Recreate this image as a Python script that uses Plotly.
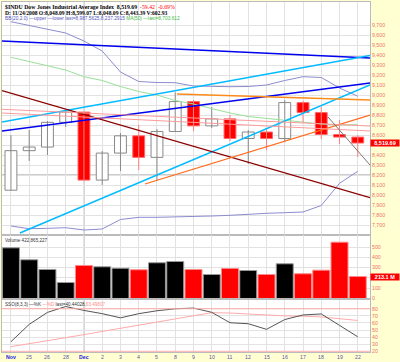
import plotly.graph_objects as go

# ---------------- data ----------------
dates = ["Nov", "25", "26", "28", "Dec", "2", "3", "4", "5", "8", "9", "10",
         "11", "12", "15", "16", "17", "18", "19", "22"]
opens = [8048.09, 8443.39, 8479.47, 8726.61, 8829.04, 8149.09, 8419.09, 8591.69,
         8376.24, 8635.42, 8934.18, 8691.33, 8761.42, 8565.09, 8629.68, 8564.53,
         8924.14, 8824.34, 8604.99, 8579.11]
closes = [8443.39, 8479.47, 8726.61, 8829.04, 8149.09, 8419.09, 8591.69, 8376.24,
          8635.42, 8934.18, 8691.33, 8761.42, 8565.09, 8629.68, 8564.53, 8924.14,
          8824.34, 8604.99, 8579.11, 8519.69]
highs = [8599.07, 8650, 8740, 8850, 8829, 8440, 8620, 8700, 8660, 9026, 8950, 8880,
         8800, 8650, 8670, 8950, 8940, 8880, 8750, 8600]
lows = [8048.09, 8340, 8400, 8680, 8140, 8100, 8240, 8250, 8150, 8636, 8640, 8670,
        8540, 8310, 8450, 8530, 8720, 8560, 8510, 8380]
volume_m = [492, 376, 282, 155, 320, 308, 294, 279, 347, 359, 282, 233, 291, 272,
            233, 337, 240, 275, 547, 213.1]
bb_upper = [9733, 9695, 9660, 9620, 9540, 9440, 9230, 9135, 9125, 9123, 9090, 9083,
            9083, 9085, 9100, 9145, 9183, 9175, 9070, 8987.56]
bb_lower = [7690, 7663, 7667, 7673, 7650, 7660, 7755, 7777, 7777, 7780, 7785, 7790,
            7797, 7810, 7817, 7823, 7830, 7895, 8117, 8237.29]
ma50 = [9377, 9335, 9290, 9250, 9183, 9145, 9085, 9035, 9000, 8945, 8910, 8865,
        8820, 8785, 8765, 8750, 8725, 8710, 8700, 8703.61]
sso_k = [33.5, 58, 74.9, 83.2, 77.7, 73.1, 67.2, 73.1, 77.2, 80, 81, 75, 60.3, 58.9,
         51, 64.8, 71.3, 72.7, 56.6, 40.44]
sso_d = [26.5, 30.5, 35, 39.5, 43.5, 48, 52.5, 57, 62, 66.5, 71, 74.5, 74, 72.5, 71,
         70, 69.5, 68.5, 66, 63.5]

# trend lines drawn on the chart: (day index start, price start, day index end, price end)
trend_x0 = [-0.49, -0.49, -0.49, 0.49, -0.49, 7.34, 9.1, -0.49, -0.49, 17.37]
trend_y0 = [9540, 8640, 8730, 7620, 9043, 8110, 9010, 8857, 8820, 8780]
trend_x1 = [19.67, 19.67, 19.67, 19.67, 19.67, 19.67, 19.67, 19.67, 19.67, 19.67]
trend_y1 = [9370, 9120, 9395, 9100, 7973, 8800, 8950, 8690, 8640, 8300]
trend_col = ["#0000EE", "#0000EE", "#00BBFF", "#00BBFF", "#8B0000", "#FF6A1A",
             "#FF8C1A", "#FF9A9A", "#FF9A9A", "#777777"]
trend_w = [1.6, 1.6, 1.5, 1.5, 1.2, 1.3, 1.3, 1, 1, 1]

yticks_main = list(range(7700, 9701, 100))
yticks_vol = [0, 100, 200, 300, 400, 500]
yticks_sso = [20, 30, 40, 50, 60, 70, 80]

# ---------------- figure ----------------
n = len(dates)
xs = list(range(n))
fig = go.Figure()

up = [c >= o for o, c in zip(opens, closes)]
prev_up = [True] + [closes[i] >= closes[i - 1] for i in range(1, n)]

# candle wicks
for colr, flag in (("#888888", True), ("#FF8080", False)):
    wx, wy = [], []
    for i in range(n):
        if up[i] == flag:
            wx += [i, i, None]
            wy += [lows[i], highs[i], None]
    fig.add_trace(go.Scatter(x=wx, y=wy, mode="lines", line=dict(color=colr, width=1),
                             xaxis="x", yaxis="y", hoverinfo="skip"))

# candle bodies
fig.add_trace(go.Bar(
    x=xs, base=[min(o, c) for o, c in zip(opens, closes)],
    y=[abs(c - o) for o, c in zip(opens, closes)], width=0.65,
    marker=dict(color=["white" if u else "#FF0000" for u in up],
                line=dict(color=["#888888" if u else "#FF6666" for u in up], width=1)),
    xaxis="x", yaxis="y"))

# Bollinger and MA
fig.add_trace(go.Scatter(x=xs, y=bb_upper, mode="lines", line=dict(color="#8C8CD0", width=1),
                         xaxis="x", yaxis="y"))
fig.add_trace(go.Scatter(x=xs, y=bb_lower, mode="lines", line=dict(color="#8C8CD0", width=1),
                         xaxis="x", yaxis="y"))
fig.add_trace(go.Scatter(x=xs, y=ma50, mode="lines", line=dict(color="#99E099", width=1),
                         xaxis="x", yaxis="y"))

# volume
fig.add_trace(go.Bar(
    x=xs, y=volume_m, width=0.93,
    marker=dict(color=["#000000" if p else "#FF0000" for p in prev_up],
                line=dict(color=["#999999" if p else "#FF8888" for p in prev_up], width=1)),
    xaxis="x2", yaxis="y2"))

# SSO
fig.add_trace(go.Scatter(x=xs, y=sso_d, mode="lines", line=dict(color="#FFAAAA", width=1),
                         xaxis="x3", yaxis="y3"))
fig.add_trace(go.Scatter(x=xs, y=sso_k, mode="lines", line=dict(color="#555555", width=1),
                         xaxis="x3", yaxis="y3"))

shapes = []
shapes.append(dict(type="line", xref="x", yref="paper", x0=4, x1=4, y0=0, y1=1,
                   line=dict(color="#AAAAAA", width=1), layer="below"))
shapes.append(dict(type="line", xref="paper", yref="y", x0=0, x1=1, y0=8200, y1=8200,
                   line=dict(color="#999999", width=1), layer="below"))
for x0, y0, x1, y1, c, w in zip(trend_x0, trend_y0, trend_x1, trend_y1, trend_col, trend_w):
    shapes.append(dict(type="line", xref="x", yref="y", x0=x0, y0=y0, x1=x1, y1=y1,
                       line=dict(color=c, width=w)))
for lv in (80, 20):
    shapes.append(dict(type="line", xref="paper", yref="y3", x0=0, x1=1, y0=lv, y1=lv,
                       line=dict(color="#FFAAAA", width=1)))

xr = [-0.49, 19.67]
tick_font = dict(family="Liberation Sans", size=5.2, color="#F07070")
grid = "#E2E2E2"
ax_common = dict(range=xr, showgrid=True, gridcolor=grid, gridwidth=1, zeroline=False,
                 showline=True, linecolor="#BBBBBB", mirror=True, tickvals=xs,
                 showticklabels=False, fixedrange=True)

main_text = ["" if v == 8500 else "{:,}".format(v) for v in yticks_main]
vol_text = ["" if v == 200 else str(v) for v in yticks_vol]

fig.update_layout(
    width=400, height=362,
    margin=dict(l=2, r=30, t=2, b=10),
    paper_bgcolor="#FFFFD2", plot_bgcolor="#FFFFFF",
    showlegend=False, barmode="overlay", hovermode=False,
    xaxis=dict(ax_common, domain=[0, 1], anchor="y"),
    xaxis2=dict(ax_common, domain=[0, 1], anchor="y2", matches="x"),
    xaxis3=dict(ax_common, domain=[0, 1], anchor="y3", matches="x"),
    yaxis=dict(domain=[0.3343, 1], range=[7600, 9930], side="right", tickvals=yticks_main,
               ticktext=main_text, tickfont=tick_font,
               showgrid=True, gridcolor=grid, zeroline=False, showline=True,
               linecolor="#BBBBBB", mirror=True, anchor="x", fixedrange=True),
    yaxis2=dict(domain=[0.1529, 0.3329], range=[0, 612], side="right", tickvals=yticks_vol,
                ticktext=vol_text, tickfont=tick_font, showgrid=True, gridcolor=grid,
                zeroline=False, showline=True, linecolor="#BBBBBB", mirror=True,
                anchor="x2", fixedrange=True),
    yaxis3=dict(domain=[0, 0.1486], range=[19.0, 92.4], side="right", tickvals=yticks_sso,
                tickfont=tick_font, showgrid=True, gridcolor=grid, zeroline=False,
                showline=True, linecolor="#BBBBBB", mirror=True, anchor="x3", fixedrange=True),
    shapes=shapes,
)

ann = []
# x-axis date labels
for i, d in enumerate(dates):
    if d in ("Nov", "Dec"):
        txt, col = "<b>%s</b>" % d, "#2222DD"
    else:
        txt, col = d, "#5555AA"
    ann.append(dict(xref="x3", yref="paper", x=i, y=-0.0143, yanchor="middle",
                    xanchor="center", showarrow=False, text=txt, borderpad=0,
                    font=dict(family="Liberation Sans", size=5.2, color=col)))

ann.append(dict(xref="paper", yref="paper", x=0.003, y=1.0, yanchor="top", xanchor="left",
                showarrow=False, align="left",
                text="<b>$INDU Dow Jones Industrial Average Index</b>  <b>8,519.69</b>  "
                     "<span style='color:#FF0000'>-59.42</span>  "
                     "<span style='color:#FF0000'>-0.69%</span>",
                font=dict(family="Liberation Serif", size=5.8, color="#000000")))
ann.append(dict(xref="paper", yref="paper", x=0.003, y=0.9815, yanchor="top", xanchor="left",
                showarrow=False, align="left",
                text="<b>D: 11/24/2008 O:8,048.09 H:8,599.07 L:8,048.09 C:8,443.39 V:602.93</b>",
                font=dict(family="Liberation Serif", size=5.6, color="#000000")))
ann.append(dict(xref="paper", yref="paper", x=0.003, y=0.965, yanchor="top", xanchor="left",
                showarrow=False, align="left",
                text="<span style='color:#5555BB'>BB(20,2.0) \u2014upper \u2014lower last=8,987.5625,8,237.2915</span>"
                     " <span style='color:#44BB44'>MA(50) \u2014last=8,703.612</span>",
                font=dict(family="Liberation Sans", size=4.8, color="#5555BB")))
ann.append(dict(xref="paper", yref="paper", x=0.003, y=0.332, yanchor="top", xanchor="left",
                showarrow=False, align="left", text="Volume 422,865,227",
                font=dict(family="Liberation Sans", size=4.6, color="#333333")))
ann.append(dict(xref="paper", yref="paper", x=0.003, y=0.1486, yanchor="top", xanchor="left",
                showarrow=False, align="left",
                text="SSO(8,3,3) \u2014%K <span style='color:#FF8888'>\u2014%D</span> last=40.44028,"
                     "<span style='color:#FF8888'>63.49807</span>",
                font=dict(family="Liberation Sans", size=4.6, color="#333333")))
# last-value boxes
ann.append(dict(xref="paper", yref="y", x=1.0, y=closes[-1], xanchor="left", yanchor="middle",
                showarrow=False, text="<b>8,519.69</b>", bgcolor="#FF0000", width=28,
                font=dict(family="Liberation Sans", size=5.5, color="#FFFFFF"), borderpad=0))
ann.append(dict(xref="paper", yref="y2", x=1.0, y=volume_m[-1], xanchor="left", yanchor="middle",
                showarrow=False, text="<b>213.1 M</b>", bgcolor="#FF0000", width=28,
                font=dict(family="Liberation Sans", size=5.5, color="#FFFFFF"), borderpad=0))
fig.update_layout(annotations=ann)

fig.write_html("out.html", config={"displayModeBar": False},
               post_script="document.body.style.margin='0px';"
                           "document.body.style.padding='0px';"
                           "document.body.style.overflow='hidden';")
